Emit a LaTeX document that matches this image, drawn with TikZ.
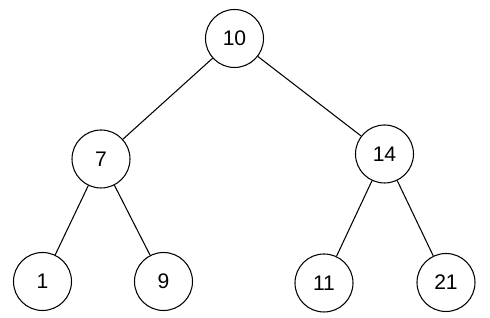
\documentclass[tikz,border=0pt]{standalone}
\usepackage{fontspec}
\setmainfont{Liberation Sans}
\usepackage{xcolor,tikz}
\usetikzlibrary{positioning,calc}
\definecolor{treeLine}{HTML}{000000}

\tikzset{
  keynode/.style={circle, draw=treeLine, line width=0.6pt, minimum size=1.16cm,
    inner sep=0pt, font=\fontsize{12}{14}\selectfont},
  treeedge/.style={draw=treeLine, line width=0.6pt}
}

\begin{document}
\begin{tikzpicture}

\useasboundingbox (0,0) rectangle (9.8,6.36);

% --- LEVEL 0 ---
\node[keynode] (k10) at (4.69, 5.59) {10};

% --- LEVEL 1 ---
\node[keynode] (k7)  at (2.02, 3.18) {7};
\node[keynode] (k14) at (7.69, 3.28) {14};

% --- LEVEL 2 ---
\node[keynode] (k1)  at (0.85, 0.73) {1};
\node[keynode] (k9)  at (3.27, 0.73) {9};
\node[keynode] (k11) at (6.48, 0.70) {11};
\node[keynode] (k21) at (8.92, 0.71) {21};

% --- EDGES ---
\foreach \p/\c in {k10/k7, k10/k14, k7/k1, k7/k9, k14/k11, k14/k21} {
  \draw[treeedge] (\p) -- (\c);
}

\end{tikzpicture}
\end{document}
